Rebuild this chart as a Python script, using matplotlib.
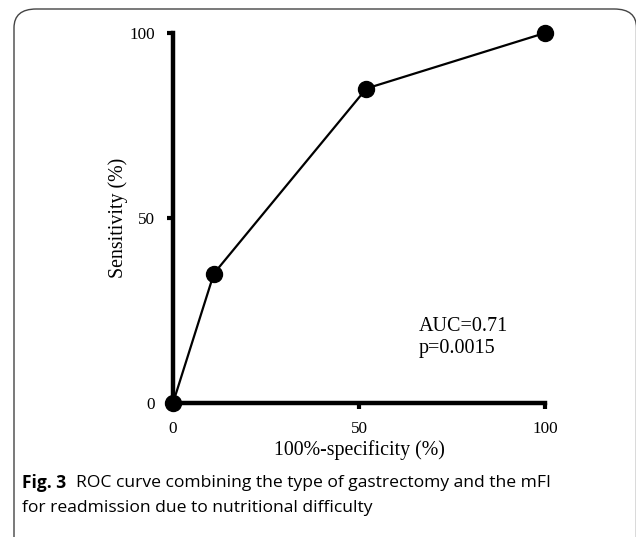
import matplotlib.pyplot as plt
from matplotlib.patches import FancyBboxPatch

# ROC points
fpr = [0, 11, 52, 100]
sens = [0, 35, 85, 100]
ticks = [0, 50, 100]
auc_text = "AUC=0.71\np=0.0015"

W, H = 636, 537
fig = plt.figure(figsize=(W / 100, H / 100), dpi=100)

# rounded frame around figure + caption (right and bottom edges run off the image)
frame = FancyBboxPatch((14 / W, -0.1), 622.5 / W, 1.1 - 9 / H,
                       boxstyle="round,pad=0,rounding_size=0.035",
                       transform=fig.transFigure, fill=False,
                       edgecolor="#444444", linewidth=1.0, clip_on=False)
fig.patches.append(frame)

ax = fig.add_axes([173 / W, 1 - 403 / H, (545 - 173) / W, (403 - 33) / H])
ax.plot(fpr, sens, color="black", lw=1.6, marker="o", ms=11.5,
        clip_on=False, zorder=5)
ax.set_xlim(0, 100)
ax.set_ylim(0, 100)
ax.set_xticks(ticks)
ax.set_yticks(ticks)
ax.set_xticklabels([str(t) for t in ticks])
ax.set_yticklabels([str(t) for t in ticks])

for s in ["top", "right"]:
    ax.spines[s].set_visible(False)
for s in ["left", "bottom"]:
    ax.spines[s].set_linewidth(3.2)
    ax.spines[s].set_capstyle("projecting")

serif = "Liberation Serif"
ax.tick_params(direction="out", length=4, width=3, labelsize=12.3, pad=9)
for lab in ax.get_xticklabels() + ax.get_yticklabels():
    lab.set_fontfamily(serif)

ax.set_xlabel("100%-specificity (%)", fontfamily=serif, fontsize=14.3, labelpad=2)
ax.set_ylabel("Sensitivity (%)", fontfamily=serif, fontsize=14.3, labelpad=1)

ax.text(66, 17.6, auc_text, fontfamily=serif, fontsize=14.5, va="center",
        ha="left", linespacing=1.2)

# caption
cap = "Open Sans"
fig.text(22 / W, 1 - 483 / H, "Fig. 3", fontsize=12.5, va="center",
         ha="left", fontfamily=cap, fontweight="bold")
fig.text(76 / W, 1 - 483 / H,
         "ROC curve combining the type of gastrectomy and the mFI",
         fontsize=12.6, va="center", ha="left", fontfamily=cap)
fig.text(22 / W, 1 - 508 / H, "for readmission due to nutritional difficulty",
         fontsize=12.6, va="center", ha="left", fontfamily=cap)

fig.savefig("out.png", dpi=100)
